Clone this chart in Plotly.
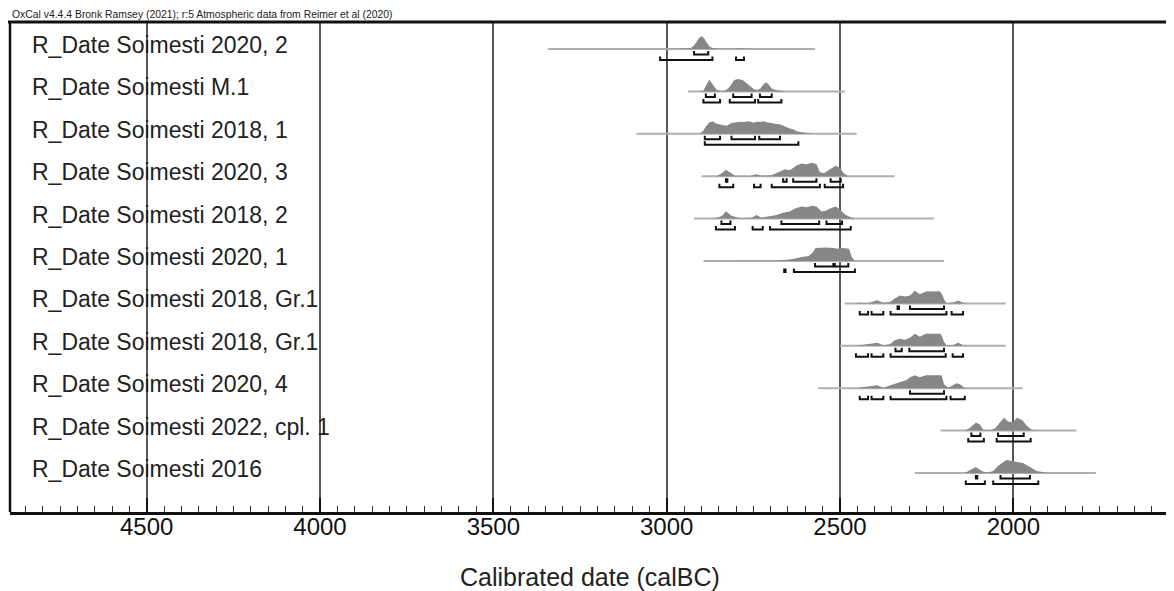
import plotly.graph_objects as go

# ---------------- data ----------------
labels = ["R_Date Soimesti 2020, 2", "R_Date Soimesti M.1", "R_Date Soimesti 2018, 1",
          "R_Date Soimesti 2020, 3", "R_Date Soimesti 2018, 2", "R_Date Soimesti 2020, 1",
          "R_Date Soimesti 2018, Gr.1", "R_Date Soimesti 2018, Gr.1", "R_Date Soimesti 2020, 4",
          "R_Date Soimesti 2022, cpl. 1", "R_Date Soimesti 2016"]

# extent of the grey base line of each likelihood (cal BC)
line_start = [3342, 2938, 3087, 2899, 2921, 2894, 2486, 2500, 2563, 2210, 2284]
line_end = [2572, 2486, 2452, 2342, 2229, 2200, 2022, 2022, 1973, 1818, 1762]

# relative probability profiles (cal BC, relative height)
density_years = [
    [3020, 2945, 2932, 2923, 2912, 2905, 2899, 2892, 2884, 2875, 2862, 2845, 2810, 2800, 2793, 2785, 2770, 2720, 2712, 2704, 2690],
    [2910, 2894, 2886, 2877, 2868, 2856, 2845, 2830, 2818, 2805, 2793, 2780, 2769, 2758, 2750, 2741, 2731, 2720, 2712, 2704, 2697, 2683, 2668, 2650],
    [2905, 2895, 2887, 2876, 2866, 2856, 2846, 2837, 2827, 2813, 2800, 2789, 2777, 2765, 2755, 2750, 2740, 2731, 2720, 2712, 2702, 2693, 2685, 2673, 2660, 2645, 2635, 2625, 2606, 2590, 2575],
    [2856, 2841, 2829, 2818, 2803, 2760, 2741, 2726, 2697, 2678, 2659, 2645, 2625, 2611, 2597, 2582, 2568, 2558, 2546, 2529, 2512, 2500, 2489, 2476],
    [2870, 2857, 2840, 2829, 2813, 2789, 2755, 2741, 2726, 2702, 2683, 2664, 2645, 2630, 2611, 2597, 2580, 2568, 2553, 2541, 2524, 2512, 2500, 2486, 2471, 2457],
    [2900, 2850, 2800, 2700, 2673, 2635, 2611, 2590, 2580, 2570, 2555, 2539, 2519, 2505, 2491, 2474, 2466, 2457],
    [2462, 2443, 2420, 2393, 2375, 2356, 2342, 2327, 2313, 2298, 2284, 2270, 2252, 2231, 2212, 2204, 2200, 2193, 2173, 2159, 2145, 2135],
    [2470, 2443, 2393, 2375, 2356, 2342, 2327, 2313, 2298, 2284, 2270, 2252, 2231, 2210, 2204, 2200, 2193, 2173, 2159, 2145, 2135],
    [2480, 2452, 2393, 2375, 2346, 2327, 2308, 2298, 2284, 2270, 2252, 2231, 2207, 2200, 2188, 2164, 2154, 2142, 2130],
    [2140, 2125, 2108, 2096, 2087, 2068, 2053, 2041, 2027, 2015, 2002, 1989, 1973, 1962, 1947, 1933],
    [2140, 2125, 2108, 2091, 2077, 2058, 2044, 2029, 2020, 2005, 1991, 1972, 1952, 1933, 1904, 1890],
]
density_values = [
    [0, 0.01, 0.05, 0.2, 0.55, 0.85, 0.95, 0.8, 0.45, 0.15, 0.04, 0.02, 0.02, 0.05, 0.07, 0.04, 0.01, 0.01, 0.03, 0.01, 0],
    [0, 0.05, 0.45, 0.87, 0.55, 0.12, 0.03, 0.06, 0.35, 0.85, 0.92, 0.82, 0.6, 0.35, 0.2, 0.1, 0.18, 0.55, 0.67, 0.45, 0.22, 0.08, 0.03, 0],
    [0, 0.2, 0.55, 0.85, 0.92, 0.75, 0.68, 0.62, 0.6, 0.8, 0.86, 0.9, 0.88, 0.93, 0.87, 0.82, 0.9, 0.88, 0.93, 0.85, 0.82, 0.75, 0.72, 0.7, 0.55, 0.4, 0.33, 0.18, 0.1, 0.05, 0],
    [0, 0.22, 0.48, 0.3, 0.03, 0.01, 0.15, 0.03, 0.07, 0.3, 0.52, 0.45, 0.8, 0.95, 0.88, 1.0, 0.9, 0.3, 0.22, 0.52, 0.78, 0.6, 0.22, 0],
    [0, 0.04, 0.22, 0.55, 0.22, 0.02, 0.07, 0.26, 0.07, 0.15, 0.26, 0.44, 0.52, 0.74, 0.89, 0.85, 0.96, 0.89, 0.52, 0.59, 0.81, 0.89, 0.67, 0.3, 0.11, 0],
    [0, 0.02, 0.01, 0.02, 0.04, 0.15, 0.3, 0.37, 0.6, 0.96, 0.98, 1.0, 0.96, 0.9, 0.96, 0.9, 0.3, 0],
    [0, 0.04, 0.02, 0.24, 0.05, 0.11, 0.37, 0.59, 0.52, 0.59, 0.93, 0.67, 0.89, 0.89, 0.9, 0.6, 0.3, 0.02, 0.07, 0.22, 0.04, 0],
    [0, 0.04, 0.22, 0.05, 0.12, 0.42, 0.52, 0.45, 0.6, 0.9, 0.67, 0.89, 0.9, 0.9, 0.6, 0.3, 0.02, 0.06, 0.22, 0.04, 0],
    [0, 0.02, 0.22, 0.04, 0.3, 0.45, 0.6, 0.82, 0.96, 0.82, 0.96, 0.96, 0.96, 0.3, 0.04, 0.37, 0.3, 0.04, 0],
    [0, 0.22, 0.6, 0.45, 0.07, 0.02, 0.15, 0.52, 0.96, 0.67, 0.6, 0.96, 0.74, 0.37, 0.07, 0],
    [0, 0.22, 0.45, 0.15, 0.02, 0.15, 0.52, 0.82, 0.96, 0.89, 0.82, 0.74, 0.45, 0.15, 0.02, 0],
]

# highest probability ranges (cal BC)
ranges_68 = [
    [(2921, 2880)],
    [(2887, 2861), (2808, 2755), (2731, 2697)],
    [(2890, 2846), (2813, 2745), (2733, 2673)],
    [(2829, 2825), (2664, 2654), (2635, 2568), (2527, 2498)],
    [(2842, 2816), (2669, 2560), (2539, 2494)],
    [(2572, 2519), (2515, 2476)],
    [(2334, 2330), (2298, 2200)],
    [(2340, 2322), (2300, 2200)],
    [(2298, 2200)],
    [(2121, 2095), (2044, 1970)],
    [(2108, 2104), (2037, 1952)],
]
ranges_95 = [
    [(3019, 2868), (2800, 2777)],
    [(2894, 2846), (2818, 2745), (2736, 2669)],
    [(2890, 2620)],
    [(2848, 2808), (2748, 2729), (2697, 2558), (2544, 2491)],
    [(2858, 2803), (2752, 2723), (2702, 2469)],
    [(2661, 2657), (2633, 2457)],
    [(2443, 2419), (2409, 2375), (2354, 2193), (2178, 2145)],
    [(2454, 2419), (2409, 2375), (2354, 2195), (2175, 2145)],
    [(2443, 2419), (2409, 2375), (2354, 2193), (2181, 2140)],
    [(2130, 2085), (2048, 1950)],
    [(2137, 2082), (2058, 1928)],
]

major_ticks = [4500, 4000, 3500, 3000, 2500, 2000]
header = "OxCal v4.4.4 Bronk Ramsey (2021); r:5 Atmospheric data from Reimer et al (2020)"
x_title = "Calibrated date (calBC)"

# ---------------- layout constants ----------------
PAGE_OFF = 8                     # browser body margin
W, H = 1174 - PAGE_OFF, 591 - PAGE_OFF
ML, MR, MT = 10 - PAGE_OFF, 0, 22 - PAGE_OFF
PLOT_BOTTOM = 512 - PAGE_OFF
MB = H - PLOT_BOTTOM
PH = H - MT - MB
PW = W - ML - MR
ROW_PX = 42.4
PEAK_PX = 13.5
ROW0_PX = 49 - PAGE_OFF
Y_TOP = -(ROW0_PX - MT) / ROW_PX
Y_BOT = 10 + (PLOT_BOTTOM - (ROW0_PX + 10 * ROW_PX)) / ROW_PX
FONT = "Arial, 'Liberation Sans', sans-serif"

fig = go.Figure()

for i in range(len(labels)):
    fig.add_trace(go.Scatter(x=[line_start[i], line_end[i]], y=[i, i], mode="lines",
                             line=dict(color="#b0b0b0", width=2), hoverinfo="skip", showlegend=False))
    ys = density_years[i]
    vs = density_values[i]
    px = list(ys) + list(ys[::-1])
    py = [i - v * PEAK_PX / ROW_PX for v in vs] + [i] * len(ys)
    fig.add_trace(go.Scatter(x=px, y=py, mode="lines", fill="toself", fillcolor="#878787",
                             line=dict(width=0, color="#878787"), hoverinfo="skip", showlegend=False))
    for rngs, off in ((ranges_68[i], 5.5), (ranges_95[i], 11.0)):
        bx, by = [], []
        yb = i + off / ROW_PX
        yt = yb - 3.5 / ROW_PX
        for s, e in rngs:
            bx += [s, s, e, e, None]
            by += [yt, yb, yb, yt, None]
        fig.add_trace(go.Scatter(x=bx, y=by, mode="lines", line=dict(color="#111111", width=2),
                                 hoverinfo="skip", showlegend=False))

annotations = []
for i, lab in enumerate(labels):
    annotations.append(dict(text=lab, x=(30 - PAGE_OFF - ML) / PW, xref="paper", xanchor="left",
                            y=i, yref="y", yanchor="middle", yshift=4, showarrow=False,
                            font=dict(family=FONT, size=23, color="#222222")))
annotations.append(dict(text=header, x=(10 - PAGE_OFF - ML) / PW, xref="paper", xanchor="left",
                        y=1 + (MT - (14.5 - PAGE_OFF)) / PH, yref="paper", yanchor="middle",
                        showarrow=False, font=dict(family=FONT, size=10.4, color="#222222")))
annotations.append(dict(text=x_title, x=(590 - PAGE_OFF - ML) / PW, xref="paper", xanchor="center",
                        y=-((577 - PAGE_OFF) - PLOT_BOTTOM) / PH, yref="paper", yanchor="middle",
                        showarrow=False, font=dict(family=FONT, size=25, color="#222222")))

PX_PER_YEAR = 0.3467
x_left = 4500 + (146.7 - 10) / PX_PER_YEAR
x_right = 2000 - (1174 - 1013.3) / PX_PER_YEAR

fig.update_layout(
    width=W, height=H, margin=dict(l=ML, r=MR, t=MT, b=MB),
    paper_bgcolor="white", plot_bgcolor="white",
    annotations=annotations,
    xaxis=dict(range=[x_left, x_right], tickvals=major_ticks, ticktext=[str(t) for t in major_ticks],
               ticks="inside", ticklen=14, tickwidth=2, tickcolor="#111111", ticklabelstandoff=-9,
               showgrid=True, gridcolor="#5a5a5a", gridwidth=1.5,
               showline=True, linecolor="#111111", linewidth=2.5,
               zeroline=False, tickfont=dict(family=FONT, size=24, color="#111111"),
               minor=dict(dtick=50, tick0=0, ticks="inside", ticklen=6, tickwidth=1, tickcolor="#333333", showgrid=False)),
    yaxis=dict(range=[Y_BOT, Y_TOP], visible=False, showgrid=False, zeroline=False),
    shapes=[
        dict(type="line", xref="paper", yref="paper", x0=-0.002, x1=1, y0=1, y1=1,
             line=dict(color="#111111", width=3), layer="above"),
        dict(type="line", xref="paper", yref="paper", x0=0, x1=0, y0=0, y1=1,
             line=dict(color="#111111", width=2.5), layer="above"),
    ],
)

fig.write_html("out.html")
